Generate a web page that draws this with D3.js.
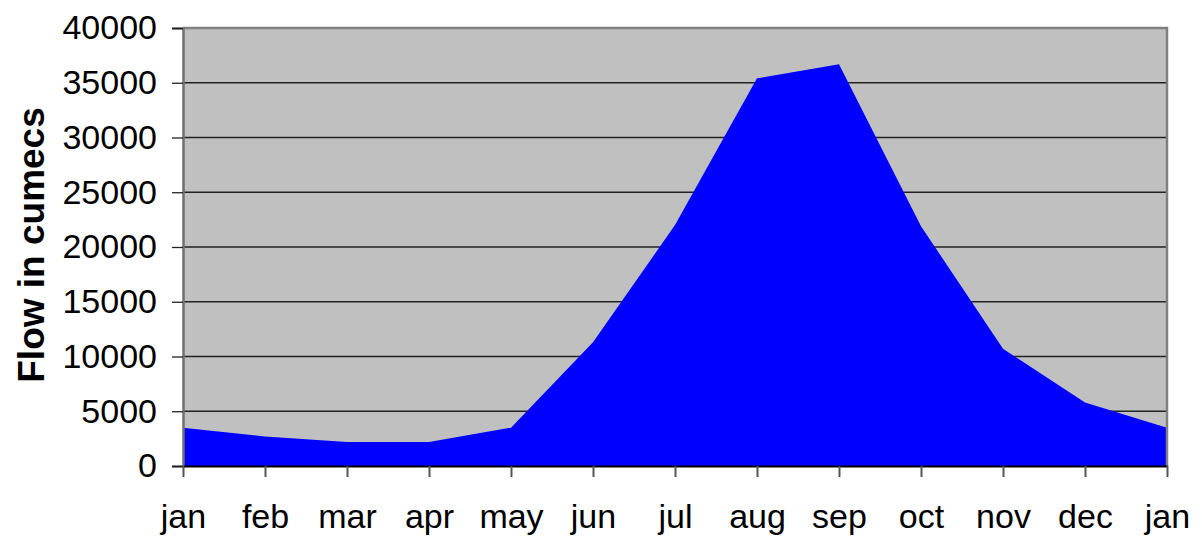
<!DOCTYPE html>
<html>
<head>
<meta charset="utf-8">
<script src="https://cdn.jsdelivr.net/npm/d3@7"></script>
<style>
  html, body { margin: 0; padding: 0; background: #fff; }
  svg text { font-family: "Liberation Sans", Arial, sans-serif; fill: #000; }
</style>
</head>
<body>
<svg id="viz" width="1202" height="542"></svg>
<script>
// Monthly flow (cumecs), Jan through the following Jan
const months = ["jan","feb","mar","apr","may","jun","jul","aug","sep","oct","nov","dec","jan"];
const flow   = [3500, 2700, 2200, 2200, 3500, 11300, 22000, 35400, 36700, 21900, 10700, 5800, 3500];
const yTicks = [0, 5000, 10000, 15000, 20000, 25000, 30000, 35000, 40000];

const W = 1202, H = 542, M = {t: 28, r: 35, b: 76, l: 183};
const innerW = W - M.l - M.r, innerH = H - M.t - M.b;

const svg = d3.select("#viz");
const g = svg.append("g").attr("transform", `translate(${M.l},${M.t})`);

const x = d3.scaleLinear().domain([0, months.length - 1]).range([0, innerW]);
const y = d3.scaleLinear().domain([0, 40000]).range([innerH, 0]);

// plot background
g.append("rect")
  .attr("width", innerW).attr("height", innerH)
  .attr("fill", "#c0c0c0");

// gridlines
g.append("g")
  .selectAll("line")
  .data(yTicks.filter(d => d > 0 && d < 40000))
  .join("line")
    .attr("x1", 0).attr("x2", innerW)
    .attr("y1", d => y(d)).attr("y2", d => y(d))
    .attr("stroke", "#222").attr("stroke-width", 1.3);

// area
const area = d3.area()
  .x((d, i) => x(i))
  .y0(innerH)
  .y1(d => y(d));

g.append("path")
  .datum(flow)
  .attr("d", area)
  .attr("fill", "#0000ff");

// frame: top + right grey border
g.append("path")
  .attr("d", `M0,0H${innerW}V${innerH}`)
  .attr("fill", "none").attr("stroke", "#808080").attr("stroke-width", 2.5);

// y axis
const gy = g.append("g")
  .call(d3.axisLeft(y).tickValues(yTicks).tickSize(11).tickPadding(15).tickFormat(d3.format("d")));
gy.select(".domain").attr("stroke", "#707070").attr("stroke-width", 2.5);
gy.selectAll(".tick line").attr("stroke", "#222").attr("stroke-width", 1.3);
gy.selectAll("text").attr("font-size", 34).style("font-family", '"Liberation Sans", Arial, sans-serif');

// x axis
const gx = g.append("g")
  .attr("transform", `translate(0,${innerH})`)
  .call(d3.axisBottom(x).tickValues(d3.range(months.length)).tickSize(11).tickPadding(27)
    .tickFormat(i => months[i]).tickSizeOuter(0));
gx.select(".domain").attr("stroke", "#000").attr("stroke-width", 2);
gx.selectAll(".tick line").attr("stroke", "#555").attr("stroke-width", 2);
gx.selectAll("text").attr("font-size", 34).style("font-family", '"Liberation Sans", Arial, sans-serif');

// y axis title
svg.append("text")
  .attr("transform", `translate(44,${245}) rotate(-90)`)
  .attr("text-anchor", "middle")
  .attr("font-size", 37)
  .attr("font-weight", "bold")
  .text("Flow in cumecs");
</script>
</body>
</html>
